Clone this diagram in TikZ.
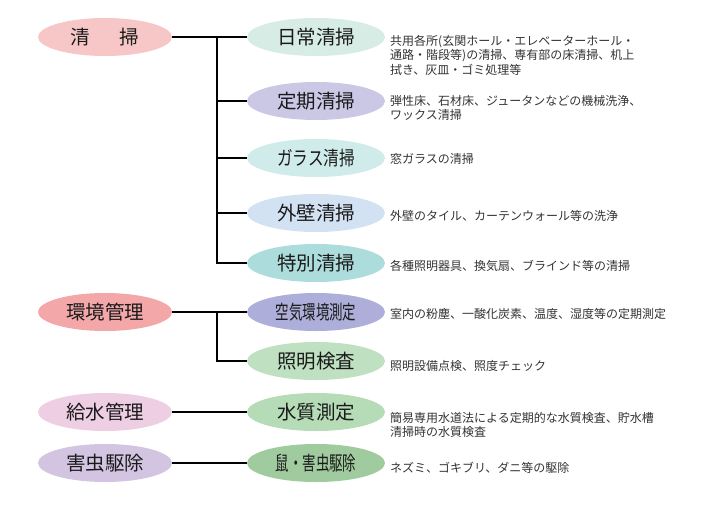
\documentclass[tikz,border=0pt]{standalone}
\usepackage{fontspec}
\setmainfont{Noto Sans CJK JP}
\usetikzlibrary{shapes.geometric}
\definecolor{cSeiso}{HTML}{F7C7C8}
\definecolor{cNichi}{HTML}{D6ECE4}
\definecolor{cTeiki}{HTML}{CBC8E6}
\definecolor{cGlass}{HTML}{CFEBEA}
\definecolor{cGaiheki}{HTML}{D3E2F3}
\definecolor{cTokubetsu}{HTML}{ADDCDC}
\definecolor{cKankyo}{HTML}{F3A7A9}
\definecolor{cKuki}{HTML}{AEAEDA}
\definecolor{cShomei}{HTML}{BFE0C1}
\definecolor{cKyusui}{HTML}{EDCEE3}
\definecolor{cSuishitsu}{HTML}{B5DCB6}
\definecolor{cGaichu}{HTML}{D3C4E1}
\definecolor{cNezumi}{HTML}{9FCB9F}
\definecolor{descgray}{HTML}{333333}
\definecolor{labelblack}{HTML}{1A1A1A}
\tikzset{
  mainbox/.style={ellipse, draw=none, minimum width=134pt, minimum height=38pt, inner sep=0pt,
    text=labelblack, font=\fontsize{19.5}{22}\selectfont},
  subbox/.style={ellipse, draw=none, minimum width=138pt, minimum height=38pt, inner sep=0pt,
    text=labelblack, font=\fontsize{19.5}{22}\selectfont},
  desc/.style={anchor=north west, inner sep=0pt, align=left, text=descgray,
    font=\fontsize{12}{14.5}\selectfont},
  link/.style={line width=1.3pt, draw=black}
}
\begin{document}
\begin{tikzpicture}[x=1pt,y=-1pt]
\useasboundingbox (0,0) rectangle (701,522);
% main categories
\node[mainbox, fill=cSeiso] (seiso) at (105,37) {清\hspace{30pt}掃};
\node[mainbox, fill=cKankyo] (kankyo) at (105,312) {環境管理};
\node[mainbox, fill=cKyusui] (kyusui) at (105,412) {給水管理};
\node[mainbox, fill=cGaichu] (gaichu) at (105,463) {害虫駆除};
% sub items
\node[subbox, fill=cNichi] (nichi) at (316,37) {日常清掃};
\node[subbox, fill=cTeiki] (teiki) at (316,101) {定期清掃};
\node[subbox, fill=cGlass] (glass) at (316,158) {\scalebox{0.8}[1]{ガラス清掃}};
\node[subbox, fill=cGaiheki] (gaiheki) at (316,213) {外壁清掃};
\node[subbox, fill=cTokubetsu] (tokubetsu) at (316,263) {特別清掃};
\node[subbox, fill=cKuki] (kuki) at (316,312) {\scalebox{0.69}[1]{空気環境測定}};
\node[subbox, fill=cShomei] (shomei) at (316,361) {照明検査};
\node[subbox, fill=cSuishitsu] (suishitsu) at (316,412) {水質測定};
\node[subbox, fill=cNezumi] (nezumi) at (316,463) {\scalebox{0.69}[1]{鼠・害虫駆除}};
% junctions
\coordinate (j1) at (217,37);
\coordinate (j2) at (217,312);
% connectors
\draw[link] (seiso.east) -- (nichi.west);
\draw[link] (j1) |- (teiki.west);
\draw[link] (j1) |- (glass.west);
\draw[link] (j1) |- (gaiheki.west);
\draw[link] (j1) |- (tokubetsu.west);
\draw[link] (kankyo.east) -- (kuki.west);
\draw[link] (j2) |- (shomei.west);
\draw[link] (kyusui.east) -- (suishitsu.west);
\draw[link] (gaichu.east) -- (nezumi.west);
% descriptions
\node[desc] (dnichi) at (390,35) {共用各所(玄関ホール・エレベーターホール・\\通路・階段等)の清掃、専有部の床清掃、机上\\拭き、灰皿・ゴミ処理等};
\node[desc] (dteiki) at (390,95) {弾性床、石材床、ジュータンなどの機械洗浄、\\ワックス清掃};
\node[desc] (dglass) at (390,153) {窓ガラスの清掃};
\node[desc] (dgaiheki) at (390,210) {外壁のタイル、カーテンウォール等の洗浄};
\node[desc] (dtokubetsu) at (390,260) {各種照明器具、換気扇、ブラインド等の清掃};
\node[desc] (dkuki) at (390,308) {室内の粉塵、一酸化炭素、温度、湿度等の定期測定};
\node[desc] (dshomei) at (390,360) {照明設備点検、照度チェック};
\node[desc] (dsuishitsu) at (390,412) {簡易専用水道法による定期的な水質検査、貯水槽\\清掃時の水質検査};
\node[desc] (dnezumi) at (390,462) {ネズミ、ゴキブリ、ダニ等の駆除};
\end{tikzpicture}
\end{document}
